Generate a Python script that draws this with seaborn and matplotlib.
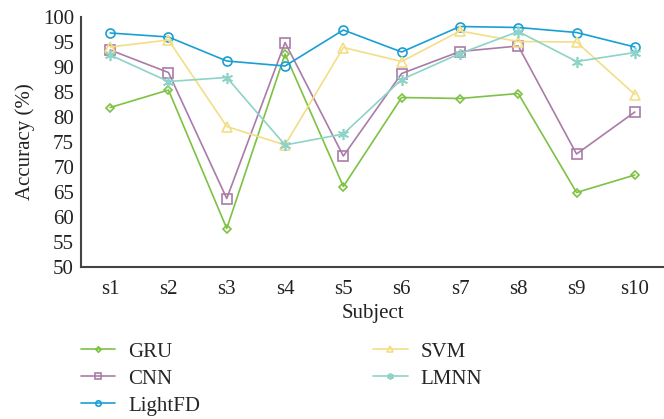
import matplotlib
matplotlib.use("Agg")
import matplotlib.pyplot as plt
import seaborn as sns
import pandas as pd

subjects = ["s1", "s2", "s3", "s4", "s5", "s6", "s7", "s8", "s9", "s10"]
gru = [81.9, 85.4, 57.7, 92.6, 66.1, 83.9, 83.7, 84.7, 64.9, 68.4]
cnn = [93.4, 88.9, 63.7, 94.9, 72.2, 88.7, 93.1, 94.2, 72.6, 81.0]
lightfd = [96.8, 96.0, 91.2, 90.2, 97.4, 93.0, 98.1, 97.9, 96.9, 94.0]
svm = [94.0, 95.4, 78.1, 74.4, 93.9, 91.1, 97.2, 95.1, 95.0, 84.5]
lmnn = [92.4, 87.1, 87.9, 74.4, 76.6, 87.5, 92.7, 97.1, 91.1, 92.9]
yticks = list(range(50, 101, 5))

sns.set_theme(style="white")
plt.rcParams["font.family"] = ["Liberation Serif", "DejaVu Serif"]

fig = plt.figure(figsize=(6.64, 4.19), dpi=100)
ax = fig.add_axes([81/664, 1-267/419, 583/664, 250/419])

series = [
    ("GRU", gru, "#7dc242", "D", 4.5),
    ("CNN", cnn, "#a97ca8", "s", 7),
    ("LightFD", lightfd, "#1a9fd5", "o", 6.5),
    ("SVM", svm, "#f3de86", "^", 7),
    ("LMNN", lmnn, "#8dd3c7", (6, 2, 0), 8),
]

for name, vals, c, m, ms in series:
    df = pd.DataFrame({"Subject": subjects, "Accuracy": vals})
    sns.lineplot(data=df, x="Subject", y="Accuracy", ax=ax, color=c, marker=m,
                 markersize=ms, mfc="none", mec=c, mew=1.2, lw=1.2,
                 label=name, sort=False)

fs = 15
ax.set_xlim(-0.5, 9.5)
ax.set_ylim(50, 100)
ax.set_yticks(yticks)
ax.set_yticklabels([str(t) for t in yticks])
for s in ["top", "right"]:
    ax.spines[s].set_visible(False)
for s in ["left", "bottom"]:
    ax.spines[s].set_color("#444444")
    ax.spines[s].set_linewidth(1.5)
ax.tick_params(axis="both", length=0, labelsize=fs, colors="#222222")
ax.tick_params(axis="x", pad=9)
ax.tick_params(axis="y", pad=5)
ax.set_xlabel("Subject", fontsize=fs, color="#222222", labelpad=4)
ax.set_ylabel("Accuracy (%)", fontsize=fs, color="#222222", labelpad=6)
ax.grid(False)

ax.legend(loc="upper left", bbox_to_anchor=(0.0, -0.30), ncol=2, frameon=False,
          fontsize=fs, handlelength=1.65, columnspacing=8.3, labelspacing=0.36,
          handletextpad=0.62, borderaxespad=0, borderpad=0, markerscale=0.6)

fig.savefig("out.png", dpi=100, facecolor="white")
